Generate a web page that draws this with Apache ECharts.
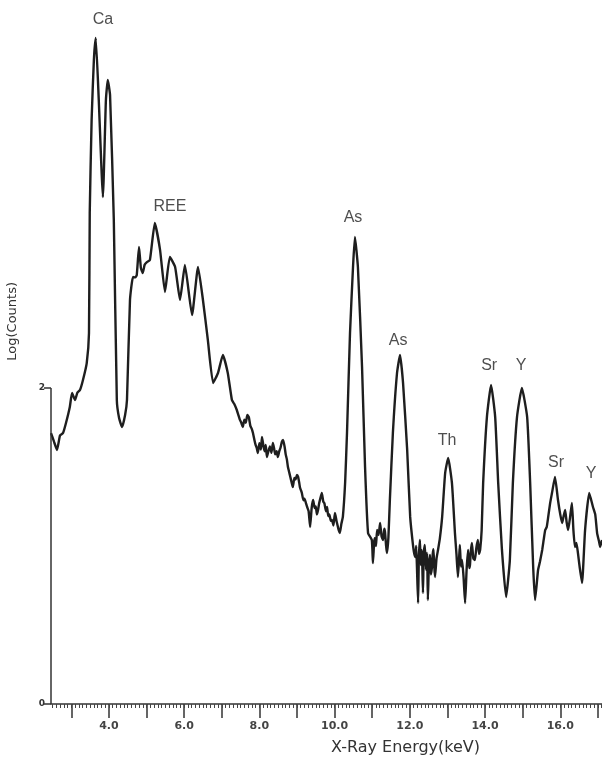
<!DOCTYPE html>
<html>
<head>
<meta charset="utf-8">
<script src="https://cdn.jsdelivr.net/npm/echarts@6/dist/echarts.min.js"></script>
<style>
  html, body { margin: 0; padding: 0; background: #fff; }
  #chart { width: 602px; height: 761px; }
</style>
</head>
<body>
<div id="chart"></div>
<script>
// X-ray energy (keV) and log(counts)
var energy = [
  2.46, 2.54, 2.62, 2.70, 2.78, 2.86, 2.96, 3.02, 3.10, 3.16, 3.23, 3.31, 3.41, 3.47, 3.49, 3.54,
  3.60, 3.65, 3.73, 3.84, 3.92, 3.97, 4.03, 4.13, 4.21, 4.27, 4.35, 4.43, 4.48, 4.56, 4.64, 4.70,
  4.74, 4.80, 4.85, 4.90, 4.95, 5.01, 5.09, 5.22, 5.36, 5.49, 5.62, 5.76, 5.89, 6.02, 6.21, 6.37,
  6.50, 6.63, 6.77, 6.90, 7.03, 7.16, 7.27, 7.33, 7.40, 7.44, 7.48, 7.52, 7.56, 7.60, 7.64, 7.68,
  7.72, 7.76, 7.80, 7.83, 7.87, 7.90, 7.93, 7.96, 8.00, 8.04, 8.07, 8.11, 8.14, 8.17, 8.20, 8.24,
  8.28, 8.32, 8.36, 8.39, 8.42, 8.46, 8.49, 8.53, 8.56, 8.60, 8.63, 8.67, 8.70, 8.73, 8.76, 8.79,
  8.82, 8.86, 8.89, 8.93, 8.96, 9.00, 9.03, 9.06, 9.08, 9.11, 9.13, 9.17, 9.20, 9.24, 9.27, 9.31,
  9.35, 9.39, 9.43, 9.47, 9.50, 9.53, 9.56, 9.59, 9.62, 9.66, 9.70, 9.73, 9.77, 9.80, 9.83, 9.86,
  9.90, 9.93, 9.97, 10.01, 10.05, 10.08, 10.11, 10.14, 10.18, 10.22, 10.28, 10.33, 10.41, 10.49, 10.54, 10.62,
  10.73, 10.81, 10.89, 10.99, 11.02, 11.05, 11.07, 11.10, 11.13, 11.17, 11.21, 11.25, 11.29, 11.32, 11.34, 11.37,
  11.39, 11.43, 11.47, 11.55, 11.66, 11.74, 11.82, 11.93, 12.01, 12.09, 12.12, 12.15, 12.17, 12.19, 12.22, 12.24,
  12.27, 12.29, 12.32, 12.35, 12.37, 12.40, 12.43, 12.46, 12.48, 12.51, 12.54, 12.56, 12.59, 12.61, 12.63, 12.65,
  12.67, 12.71, 12.75, 12.80, 12.86, 12.94, 13.02, 13.12, 13.20, 13.24, 13.28, 13.31, 13.33, 13.36, 13.39, 13.43,
  13.47, 13.51, 13.55, 13.58, 13.60, 13.62, 13.65, 13.69, 13.73, 13.77, 13.81, 13.84, 13.87, 13.91, 13.95, 14.05,
  14.16, 14.27, 14.35, 14.45, 14.56, 14.66, 14.74, 14.85, 14.98, 15.12, 15.20, 15.28, 15.33, 15.41, 15.46, 15.52,
  15.56, 15.60, 15.64, 15.68, 15.73, 15.78, 15.86, 15.94, 16.00, 16.05, 16.09, 16.13, 16.17, 16.21, 16.26, 16.31,
  16.35, 16.39, 16.43, 16.47, 16.52, 16.58, 16.66, 16.77, 16.87, 16.93, 16.98, 17.03, 17.06, 17.11
];
var logCounts = [
  1.715, 1.66, 1.608, 1.70, 1.715, 1.78, 1.880, 1.968, 1.924, 1.97, 1.987, 2.051, 2.158, 2.348, 3.108, 3.696,
  4.076, 4.215, 3.823, 3.209, 3.823, 3.949, 3.854, 3.063, 1.924, 1.810, 1.753, 1.829, 1.924, 2.557, 2.703, 2.70,
  2.715, 2.892, 2.76, 2.728, 2.78, 2.797, 2.810, 3.044, 2.873, 2.608, 2.829, 2.766, 2.557, 2.778, 2.462, 2.766,
  2.557, 2.304, 2.032, 2.095, 2.209, 2.095, 1.924, 1.90, 1.861, 1.83, 1.80, 1.78, 1.753, 1.80, 1.78, 1.83,
  1.816, 1.76, 1.74, 1.715, 1.67, 1.64, 1.62, 1.589, 1.65, 1.61, 1.690, 1.63, 1.60, 1.64, 1.563, 1.60,
  1.63, 1.59, 1.652, 1.62, 1.58, 1.60, 1.563, 1.60, 1.62, 1.66, 1.671, 1.63, 1.58, 1.55, 1.500, 1.47,
  1.44, 1.40, 1.373, 1.43, 1.42, 1.45, 1.437, 1.40, 1.37, 1.35, 1.335, 1.29, 1.30, 1.27, 1.247, 1.22,
  1.120, 1.24, 1.291, 1.24, 1.25, 1.20, 1.228, 1.27, 1.30, 1.335, 1.28, 1.27, 1.22, 1.247, 1.19, 1.20,
  1.16, 1.165, 1.13, 1.209, 1.16, 1.13, 1.10, 1.082, 1.14, 1.184, 1.40, 1.715, 2.348, 2.766, 2.956, 2.766,
  2.133, 1.500, 1.082, 1.038, 0.892, 1.02, 1.05, 1.00, 1.101, 1.07, 1.146, 1.06, 1.038, 1.11, 1.09, 1.00,
  0.956, 1.05, 1.291, 1.715, 2.095, 2.209, 2.032, 1.608, 1.184, 0.994, 0.95, 0.93, 1.00, 0.867, 0.639, 0.92,
  1.038, 0.88, 0.975, 0.703, 0.96, 1.006, 0.85, 0.956, 0.658, 0.90, 0.943, 0.82, 0.867, 0.95, 0.98, 0.87,
  0.804, 0.92, 0.975, 1.05, 1.184, 1.462, 1.557, 1.399, 1.082, 0.95, 0.804, 0.92, 1.006, 0.87, 0.911, 0.80,
  0.639, 0.85, 0.975, 0.86, 0.88, 0.96, 1.019, 0.92, 0.911, 0.99, 1.038, 0.95, 0.975, 1.10, 1.399, 1.816,
  2.019, 1.816, 1.399, 0.975, 0.677, 0.911, 1.399, 1.816, 2.000, 1.816, 1.399, 0.867, 0.658, 0.848, 0.90, 0.975,
  1.04, 1.101, 1.12, 1.184, 1.27, 1.335, 1.437, 1.291, 1.20, 1.146, 1.19, 1.228, 1.15, 1.101, 1.18, 1.272,
  1.10, 0.994, 1.02, 0.956, 0.86, 0.766, 1.101, 1.335, 1.247, 1.20, 1.082, 1.03, 0.994, 1.038
];

// peak labels
var peakNames = ['Ca', 'REE', 'As', 'As', 'Th', 'Sr', 'Y', 'Sr', 'Y'];
var peakEnergy = [3.84, 5.62, 10.49, 11.69, 12.99, 14.11, 14.96, 15.89, 16.82];
var peakLabelLog = [4.33, 3.15, 3.08, 2.30, 1.67, 2.14, 2.14, 1.53, 1.46];

// axis ticks
var xLabelValues = [4, 6, 8, 10, 12, 14, 16];
var xMajorTicks = [3, 4, 5, 6, 7, 8, 9, 10, 11, 12, 13, 14, 15, 16, 17];
var yLabelValues = [0, 2];

var xMin = 2.46, xMax = 17.11, yMax = 4.405;

var xMinorTicks = [];
for (var t = 25; t <= 171; t++) xMinorTicks.push(t / 10);

var spectrum = energy.map(function (e, i) { return [e, logCounts[i]]; });
var peaks = peakNames.map(function (n, i) { return [peakEnergy[i], peakLabelLog[i], n]; });

var myChart = echarts.init(document.getElementById('chart'));
var option = {
  animation: false,
  backgroundColor: '#fff',
  grid: { left: 51, right: 0, top: 8, bottom: 57 },
  xAxis: [{
    type: 'value',
    min: xMin,
    max: xMax,
    axisLine: { show: true, lineStyle: { color: '#333', width: 1.5 } },
    axisTick: { show: true, customValues: xMajorTicks, length: 14, lineStyle: { color: '#333', width: 1.5 } },
    axisLabel: {
      customValues: xLabelValues,
      margin: 17,
      color: '#444',
      fontFamily: 'DejaVu Sans',
      fontWeight: 'bold',
      fontSize: 11,
      formatter: function (v) { return v.toFixed(1); }
    },
    splitLine: { show: false }
  }, {
    type: 'value',
    min: xMin,
    max: xMax,
    position: 'bottom',
    axisLine: { show: false },
    axisTick: { show: true, customValues: xMinorTicks, length: 4, lineStyle: { color: '#444', width: 1 } },
    axisLabel: { show: false },
    splitLine: { show: false }
  }],
  yAxis: {
    type: 'value',
    min: 0,
    max: yMax,
    axisLine: { show: false },
    axisTick: { show: true, customValues: yLabelValues, length: 7, lineStyle: { color: '#333', width: 1.5 } },
    axisLabel: {
      customValues: yLabelValues,
      margin: 6,
      color: '#333',
      fontFamily: 'DejaVu Sans',
      fontWeight: 'bold',
      fontSize: 9
    },
    splitLine: { show: false }
  },
  graphic: [{
    type: 'text',
    left: 6,
    top: 282,
    rotation: Math.PI / 2,
    style: { text: 'Log(Counts)', font: '13px "DejaVu Sans"', fill: '#333' }
  }, {
    type: 'text',
    left: 331,
    top: 740,
    style: { text: 'X-Ray Energy(keV)', font: '16px "DejaVu Sans"', fill: '#333' }
  }],
  series: [{
    type: 'line',
    data: spectrum,
    showSymbol: false,
    smooth: 0.15,
    lineStyle: { color: '#1e1e1e', width: 2.4 },
    markLine: {
      silent: true,
      symbol: 'none',
      label: { show: false },
      lineStyle: { color: '#333', width: 1.5, type: 'solid' },
      data: [[{ coord: [xMin, 0] }, { coord: [xMin, 2] }]]
    }
  }, {
    type: 'scatter',
    data: peaks,
    symbolSize: 0,
    silent: true,
    label: {
      show: true,
      position: 'inside',
      color: '#222',
      fontFamily: 'Liberation Sans',
      fontSize: 16,
      formatter: function (p) { return p.data[2]; }
    }
  }]
};
myChart.setOption(option);
window.addEventListener('resize', function () { myChart.resize(); });
</script>
</body>
</html>
